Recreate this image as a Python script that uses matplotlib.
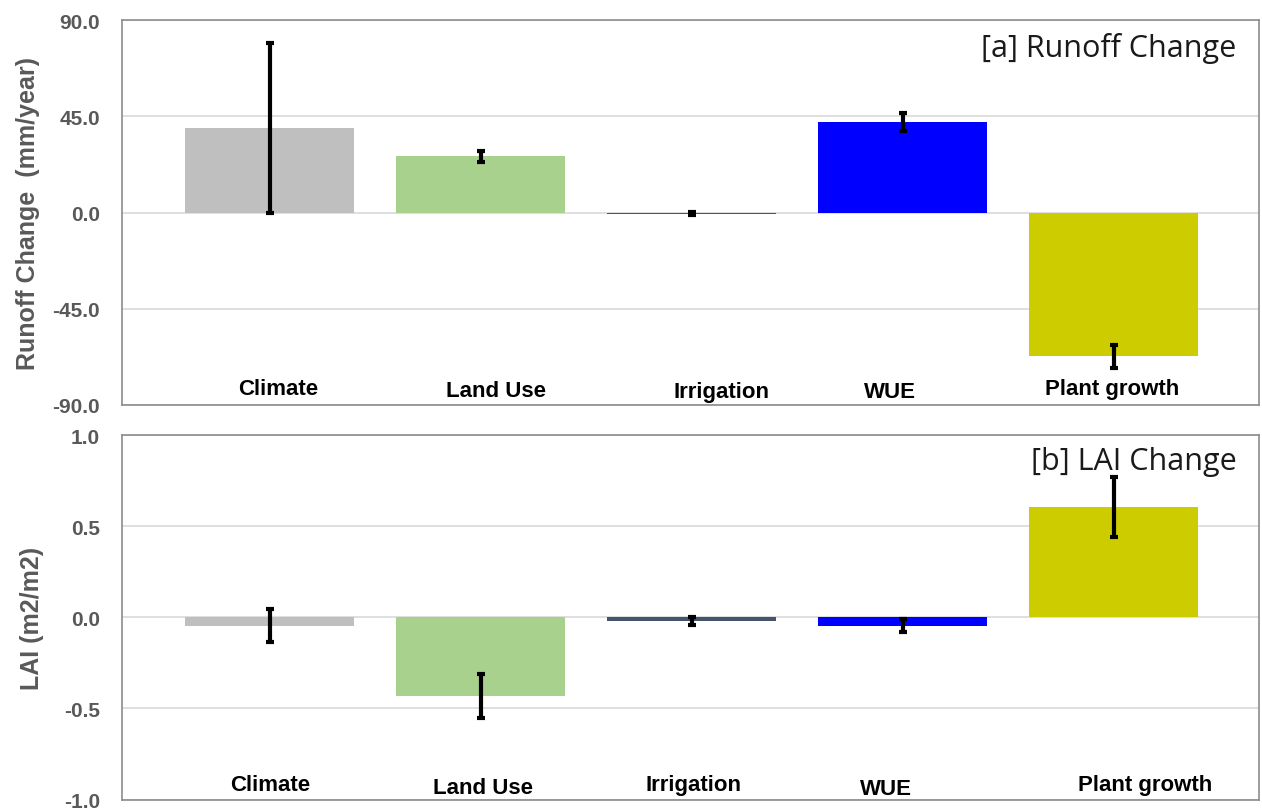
import numpy as np
import matplotlib.pyplot as plt

# data
categories = ["Climate", "Land Use", "Irrigation", "WUE", "Plant growth"]
runoff = [39.7, 26.3, -0.5, 42.3, -67.3]
runoff_err = [39.7, 2.5, 0.8, 4.3, 5.3]
lai = [-0.045, -0.43, -0.02, -0.045, 0.605]
lai_err = [0.09, 0.12, 0.02, 0.035, 0.165]
colors = ["#bfbfbf", "#a9d18e", "#44546a", "#0000ff", "#cccc00"]

runoff_ticks = [-90, -45, 0, 45, 90]
lai_ticks = [-1.0, -0.5, 0.0, 0.5, 1.0]

# label placement tweaks (category units / axes fraction)
top_dx = [0.04, 0.07, 0.14, -0.06, -0.01]
top_y = [0.042, 0.037, 0.034, 0.034, 0.042]
bot_dx = [0.0, 0.01, 0.01, -0.08, 0.15]
bot_y = [0.041, 0.033, 0.041, 0.030, 0.041]

plt.rcParams['font.family'] = ['Liberation Sans', 'DejaVu Sans']

fig = plt.figure(figsize=(12.62, 8.12), dpi=100)
ax1 = fig.add_axes([0.0967, 0.5, 0.9013, 0.474])
ax2 = fig.add_axes([0.0967, 0.014, 0.9013, 0.449])

x = np.arange(len(categories))
tick_col = "#595959"


def style(ax, ticks, ylabel, label_x, title, tdx, ty):
    ax.set_xlim(-0.7, 4.69)
    ax.set_ylim(ticks[0], ticks[-1])
    ax.set_yticks(ticks)
    ax.set_yticklabels(["{:.1f}".format(t) for t in ticks], fontsize=15,
                       fontweight='bold', color=tick_col)
    ax.tick_params(axis='y', length=0, pad=16)
    ax.set_xticks([])
    ax.yaxis.grid(True, color="#d9d9d9", linewidth=1.2)
    ax.set_axisbelow(True)
    for s in ax.spines.values():
        s.set_color("#8c8c8c")
        s.set_linewidth(1.2)
    ax.set_ylabel(ylabel, fontsize=18, fontweight='bold', color=tick_col,
                  va='center')
    ax.yaxis.set_label_coords(label_x, 0.5)
    ax.text(0.98, 0.93, title, transform=ax.transAxes, ha='right',
            va='center', fontsize=22, family='Open Sans', color="#1a1a1a")
    for i, c in enumerate(categories):
        ax.text(x[i] + tdx[i], ty[i], c, fontsize=16, fontweight='bold',
                ha='center', va='center', transform=ax.get_xaxis_transform())


ax1.bar(x, runoff, width=0.8, color=colors, zorder=2)
ax1.errorbar(x, runoff, yerr=runoff_err, fmt='none', ecolor='black',
             elinewidth=3, capsize=3, capthick=3, zorder=3)
style(ax1, runoff_ticks, "Runoff Change  (mm/year)", -0.083,
      "[a] Runoff Change", top_dx, top_y)

ax2.bar(x, lai, width=0.8, color=colors, zorder=2)
ax2.errorbar(x, lai, yerr=lai_err, fmt='none', ecolor='black',
             elinewidth=3, capsize=3, capthick=3, zorder=3)
style(ax2, lai_ticks, "LAI (m2/m2)", -0.079, "[b] LAI Change",
      bot_dx, bot_y)

fig.savefig("out.png", dpi=100)
